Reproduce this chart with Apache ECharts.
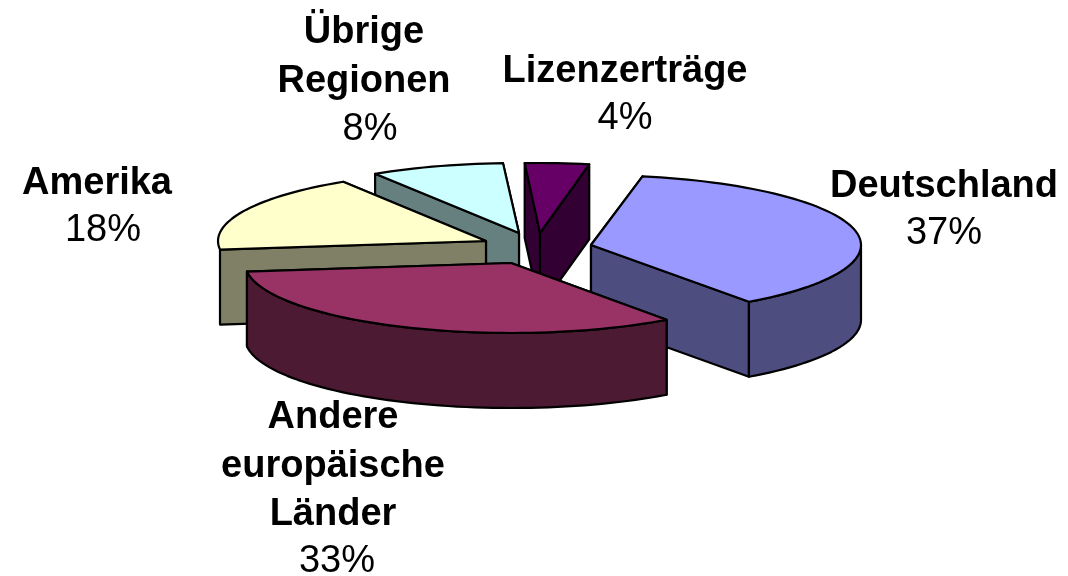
<!DOCTYPE html>
<html>
<head>
<meta charset="utf-8">
<style>
html, body { margin: 0; padding: 0; background: #fff; }
#chart { width: 1068px; height: 576px; }
</style>
<script src="https://cdn.jsdelivr.net/npm/echarts@6/dist/echarts.min.js"></script>
</head>
<body>
<div id="chart"></div>
<script>
// data
var categories = [['Deutschland'], ['Andere', 'europäische', 'Länder'], ['Amerika'], ['Übrige', 'Regionen'], ['Lizenzerträge']];
var shares = [37, 33, 18, 8, 4];

// look
var topColors = ['#9999FF', '#993366', '#FFFFCC', '#CCFFFF', '#660066'];
var wallColors = ['#4D4D80', '#4D1A33', '#808066', '#668080', '#330033'];

// layout of the exploded 3d pie
var firstAngle = 11;        // clockwise from 12 o'clock
var radiusX = [270, 266, 268, 270, 258];
var radiusY = 70;
var depth = 75;
var apexX = [591, 511, 486, 519, 540];
var apexY = [245, 263, 241, 233, 233];
var paintOrder = [4, 3, 2, 0, 1];  // back to front

// label layout: centre x, first line centre y, shift of the percent line
var labelX = [944, 333, 97, 364, 625];
var labelY = [187, 418, 184, 33, 72];
var percentShift = [0, 4, 6, 6, 0];
var percentGap = [46.5, 46.5, 46.5, 48, 46.5];
var lineHeight = 48.5;

var total = 0;
for (var t = 0; t < shares.length; t++) {
    total += shares[t];
}

function sliceAngles(idx) {
    var start = firstAngle;
    for (var i = 0; i < idx; i++) {
        start += shares[i] / total * 360;
    }
    return [start, start + shares[idx] / total * 360];
}

function rimPoint(idx, deg, drop) {
    var rad = deg * Math.PI / 180;
    return [apexX[idx] + radiusX[idx] * Math.sin(rad), apexY[idx] - radiusY * Math.cos(rad) + drop];
}

function arcPoints(idx, from, to, drop) {
    var pts = [];
    var steps = Math.max(2, Math.ceil((to - from) / 2));
    for (var i = 0; i <= steps; i++) {
        pts.push(rimPoint(idx, from + (to - from) * i / steps, drop));
    }
    return pts;
}

function poly(points, fill) {
    return {
        type: 'polygon',
        shape: { points: points },
        style: { fill: fill, stroke: '#000', lineWidth: 2.2, lineJoin: 'round' }
    };
}

function radialWall(idx, deg) {
    var rim = rimPoint(idx, deg, 0);
    return {
        y: rim[1],
        el: poly([[apexX[idx], apexY[idx]], rim, [rim[0], rim[1] + depth], [apexX[idx], apexY[idx] + depth]], wallColors[idx])
    };
}

function textLine(str, x, y, bold) {
    return {
        type: 'text',
        z2: 100,
        style: {
            text: str,
            x: x,
            y: y,
            align: 'center',
            verticalAlign: 'middle',
            fill: '#000',
            font: (bold ? 'bold ' : '') + '38px "Liberation Sans", Arial, sans-serif'
        }
    };
}

function renderSlice(params, api) {
    var idx = api.value(0);
    var ang = sliceAngles(idx);
    var children = [];

    // radial walls, the one further back first
    var walls = [radialWall(idx, ang[0]), radialWall(idx, ang[1])];
    walls.sort(function (a, b) { return a.y - b.y; });
    children.push(walls[0].el, walls[1].el);

    // outer wall only where it faces the viewer, a thin sliver just doubles the edge line
    var from = Math.max(ang[0], 90);
    var to = Math.min(ang[1], 270);
    if (to - from > 10) {
        children.push(poly(arcPoints(idx, from, to, 0).concat(arcPoints(idx, from, to, depth).reverse()), wallColors[idx]));
    }

    // top face
    children.push(poly([[apexX[idx], apexY[idx]]].concat(arcPoints(idx, ang[0], ang[1], 0)), topColors[idx]));

    // label
    var lines = categories[idx];
    for (var i = 0; i < lines.length; i++) {
        children.push(textLine(lines[i], labelX[idx], labelY[idx] + i * lineHeight, true));
    }
    var lastLine = labelY[idx] + (lines.length - 1) * lineHeight;
    children.push(textLine(api.value(1) + '%', labelX[idx] + percentShift[idx], lastLine + percentGap[idx], false));

    return { type: 'group', children: children };
}

var chart = echarts.init(document.getElementById('chart'), null, { renderer: 'canvas' });
chart.setOption({
    animation: false,
    backgroundColor: '#fff',
    series: [{
        type: 'custom',
        coordinateSystem: 'none',
        renderItem: renderSlice,
        data: paintOrder.map(function (i) { return [i, shares[i]]; })
    }]
});
</script>
</body>
</html>
